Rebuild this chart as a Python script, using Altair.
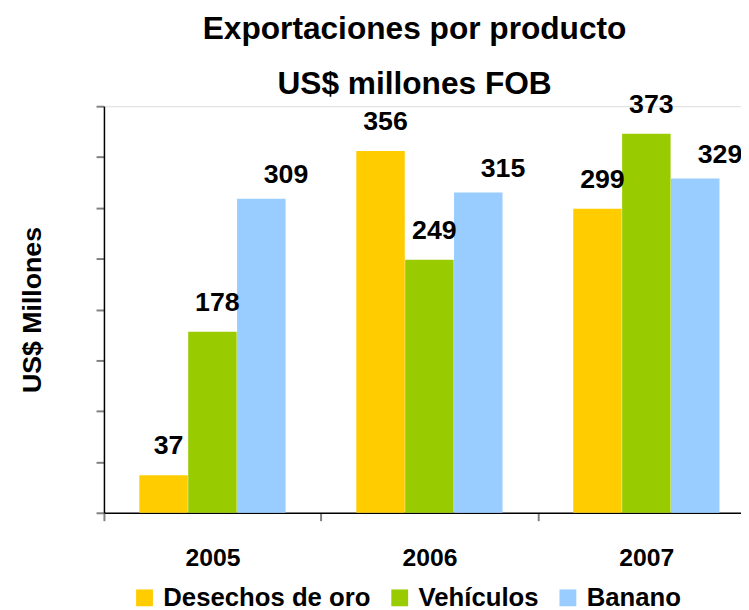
import altair as alt
import pandas as pd

years = ["2005", "2006", "2007"]
products = ["Desechos de oro", "Vehículos", "Banano"]
desechos = [37, 356, 299]
vehiculos = [178, 249, 373]
banano = [309, 315, 329]
colors = ["#FFCC00", "#99CC00", "#99CCFF"]

rows = []
for i, y in enumerate(years):
    for p, vals in zip(products, [desechos, vehiculos, banano]):
        rows.append({"year": y, "product": p, "value": vals[i]})
df = pd.DataFrame(rows)

FONT = "Liberation Sans"

x_enc = alt.X("year:N", sort=years,
              scale=alt.Scale(paddingInner=0, paddingOuter=0),
              axis=alt.Axis(title=None, labelAngle=0, labelFontSize=25, labelFontWeight="bold",
                            labelColor="black", labelFont=FONT, labelPadding=25,
                            tickBand="extent", tickSize=8, tickColor="#808080", tickWidth=2,
                            domainColor="black", domainWidth=1.5, grid=False))
xo_enc = alt.XOffset("product:N", sort=products,
                     scale=alt.Scale(paddingInner=0, paddingOuter=0.72))
y_enc = alt.Y("value:Q", scale=alt.Scale(domain=[0, 400], nice=False),
              axis=alt.Axis(title="US$ Millones", values=list(range(0, 401, 50)), labels=False,
                            tickSize=8, tickColor="#808080", tickWidth=2, domainColor="black",
                            domainWidth=1.5, grid=False, titleFontSize=27, titleFont=FONT,
                            titleFontWeight="bold", titleColor="black", titlePadding=49))

bars = alt.Chart(df).mark_bar(size=49).encode(
    x=x_enc, xOffset=xo_enc, y=y_enc,
    color=alt.Color("product:N", sort=products,
                    scale=alt.Scale(domain=products, range=colors),
                    legend=alt.Legend(title=None, orient="none", direction="horizontal",
                                      legendX=28, legendY=484, symbolType="square",
                                      symbolSize=289, symbolStrokeWidth=0, labelFontSize=26,
                                      labelFontWeight="bold", labelFont=FONT, labelColor="black",
                                      labelOffset=6, columnPadding=16, padding=0,
                                      labelLimit=400))
)

text_main = alt.Chart(df).transform_filter(alt.datum.product != "Banano").mark_text(
    baseline="bottom", dy=-15, dx=5, fontSize=27, fontWeight="bold", font=FONT, color="black"
).encode(x=alt.X("year:N", sort=years), xOffset=alt.XOffset("product:N", sort=products),
         y="value:Q", text="value:Q")

text_blue = alt.Chart(df).transform_filter(alt.datum.product == "Banano").mark_text(
    baseline="bottom", dy=-10, dx=25, fontSize=27, fontWeight="bold", font=FONT, color="black"
).encode(x=alt.X("year:N", sort=years), xOffset=alt.XOffset("product:N", sort=products),
         y="value:Q", text="value:Q")

chart = alt.layer(bars, text_main, text_blue).properties(
    width=658, height=411,
    title=alt.TitleParams(text="Exportaciones por producto", subtitle="US$ millones FOB",
                          fontSize=32, fontWeight="bold", font=FONT, color="black",
                          subtitleFontSize=32, subtitleFontWeight="bold", subtitleFont=FONT,
                          subtitleColor="black", subtitlePadding=24,
                          anchor="middle", offset=0, dx=-15, dy=10),
    autosize=alt.AutoSizeParams(type="none"),
    padding={"left": 97, "top": 96, "right": -14, "bottom": 95},
).configure_view(stroke=None).configure(background="white")

chart.save("out.html", embed_options={"renderer": "svg", "actions": False})
